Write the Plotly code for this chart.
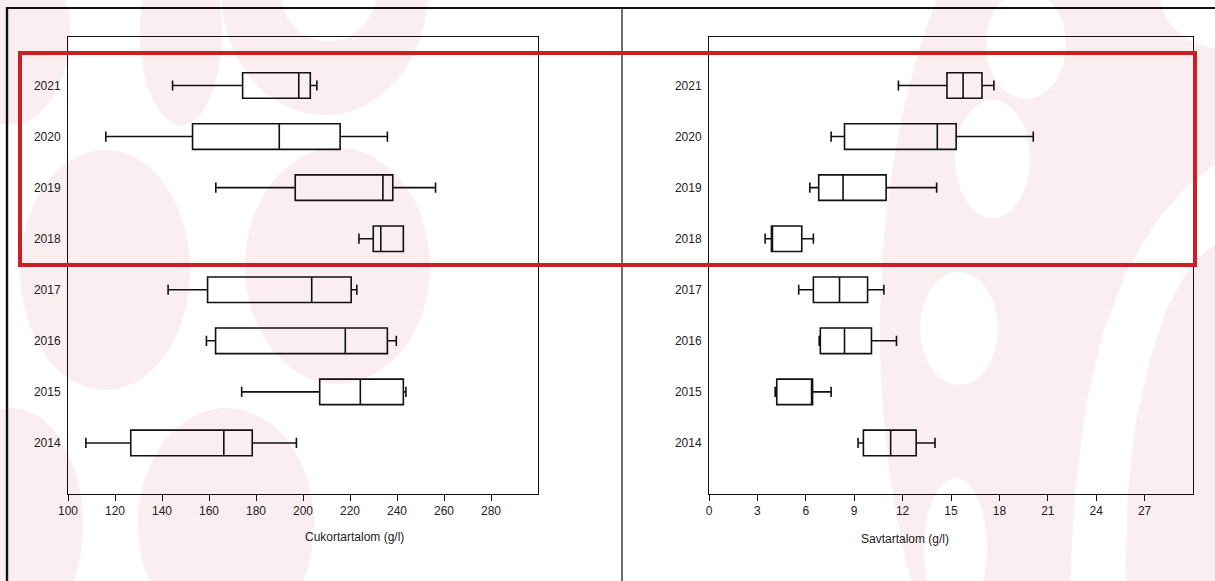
import plotly.graph_objects as go

W, H = 1215, 581

years = ["2014", "2015", "2016", "2017", "2018", "2019", "2020", "2021"]

# Sugar content (g/l) five-number summaries per vintage
sugar_min = [107.6, 173.9, 158.9, 142.6, 223.8, 162.9, 116.1, 144.5]
sugar_q1 = [126.7, 207.1, 162.8, 159.4, 229.9, 196.7, 153.0, 174.3]
sugar_med = [166.3, 224.4, 218.0, 203.7, 233.1, 234.0, 189.9, 198.2]
sugar_q3 = [178.4, 242.7, 235.9, 220.5, 242.7, 238.2, 215.8, 203.1]
sugar_max = [197.2, 243.8, 239.7, 222.9, 242.7, 256.4, 235.9, 205.9]

# Acid content (g/l) five-number summaries per vintage
acid_min = [9.24, 4.10, 6.83, 5.56, 3.48, 6.25, 7.57, 11.74]
acid_q1 = [9.57, 4.20, 6.90, 6.47, 3.87, 6.80, 8.40, 14.75]
acid_med = [11.26, 6.37, 8.40, 8.09, 3.87, 8.31, 14.15, 15.75]
acid_q3 = [12.84, 6.42, 10.07, 9.83, 5.75, 10.98, 15.32, 16.92]
acid_max = [14.01, 7.57, 11.62, 10.84, 6.47, 14.11, 20.10, 17.66]

sugar_ticks = list(range(100, 281, 20))
acid_ticks = list(range(0, 28, 3))

FONT = "Liberation Sans, Arial, sans-serif"


def px_x(x):
    return x / W


def px_y(y):
    return 1 - y / H


def box(stats, xa, ya):
    lo, q1, med, q3, hi = stats
    return go.Box(
        y=years, q1=q1, median=med, q3=q3, lowerfence=lo, upperfence=hi,
        orientation="h", xaxis=xa, yaxis=ya,
        boxpoints=False, width=0.5, whiskerwidth=0.4,
        line=dict(color="#111111", width=1.6),
        fillcolor="rgba(0,0,0,0)", hoverinfo="skip", showlegend=False,
    )


fig = go.Figure()
fig.add_trace(box((sugar_min, sugar_q1, sugar_med, sugar_q3, sugar_max), "x", "y"))
fig.add_trace(box((acid_min, acid_q1, acid_med, acid_q3, acid_max), "x2", "y2"))

ydom = [px_y(494), px_y(37)]
xcommon = dict(
    showline=True, mirror=True, linecolor="#111111", linewidth=1,
    ticks="outside", ticklen=6, tickcolor="#111111", tickwidth=1,
    showgrid=False, zeroline=False, automargin=False,
    tickfont=dict(family=FONT, size=12, color="#222222"),
)
ycommon = dict(
    type="category", categoryorder="array", categoryarray=years,
    range=[-1, 7.95], showline=True, mirror=True, linecolor="#111111",
    linewidth=1, ticks="", showgrid=False, zeroline=False, automargin=False,
    ticklabelstandoff=4, domain=ydom,
    tickfont=dict(family=FONT, size=12, color="#222222"),
)

fig.update_layout(
    width=W, height=H,
    margin=dict(l=0, r=0, t=0, b=0),
    paper_bgcolor="white", plot_bgcolor="rgba(0,0,0,0)",
    xaxis=dict(domain=[px_x(68), px_x(538)], range=[100, 300],
               tickvals=sugar_ticks, anchor="y", **xcommon),
    yaxis=dict(anchor="x", **ycommon),
    xaxis2=dict(domain=[px_x(709), px_x(1193)], range=[0, 30],
                tickvals=acid_ticks, anchor="y2", **xcommon),
    yaxis2=dict(anchor="x2", **ycommon),
)

# faint logo watermark behind both panels
pink = "#faeef0"
blobs = [
    (-50, -60, 70, 125), (140, -60, 222, 125), (221, -130, 428, 115),
    (20, 150, 190, 390), (245, 148, 430, 384), (138, 408, 314, 640),
    (-60, 408, 83, 640), (880, -270, 1560, 930),
]
holes = [(280, -60, 377, 41), (986, -10, 1066, 99), (955, 100, 1030, 218),
         (920, 272, 998, 385), (924, 478, 987, 620), (1160, -60, 1300, 50)]


def ellipse(b, color):
    x0, y0, x1, y1 = b
    return dict(type="circle", xref="paper", yref="paper", layer="below",
                x0=px_x(x0), x1=px_x(x1), y0=px_y(y1), y1=px_y(y0),
                fillcolor=color, line=dict(width=0))


shapes = [ellipse(b, pink) for b in blobs] + [ellipse(b, "white") for b in holes]

# curved white band in the right-hand watermark
outer = [(1070, 600), (1072, 540), (1076, 481), (1087, 400), (1103, 333),
         (1126, 272), (1155, 223), (1185, 188), (1220, 160)]
inner = [(1220, 240), (1205, 252), (1188, 270), (1166, 310), (1150, 360),
         (1136, 420), (1128, 490), (1125, 600)]
pts = outer + inner
path = "M " + " L ".join(f"{px_x(x):.5f},{px_y(y):.5f}" for x, y in pts) + " Z"
shapes.append(dict(type="path", xref="paper", yref="paper", layer="below",
                   path=path, fillcolor="white", line=dict(width=0)))

# outer panel borders
shapes.append(dict(type="line", xref="paper", yref="paper", x0=px_x(7), x1=px_x(7),
                   y0=0, y1=px_y(7), line=dict(color="#111111", width=2.4)))
shapes.append(dict(type="line", xref="paper", yref="paper", x0=px_x(6), x1=1,
                   y0=px_y(8), y1=px_y(8), line=dict(color="#111111", width=2)))
shapes.append(dict(type="line", xref="paper", yref="paper", x0=px_x(622), x1=px_x(622),
                   y0=0, y1=px_y(8), line=dict(color="#333333", width=1.4)))
# highlight frame around 2018-2021
shapes.append(dict(type="rect", xref="paper", yref="paper",
                   x0=px_x(20), x1=px_x(1195), y0=px_y(265), y1=px_y(53),
                   line=dict(color="#cc1e24", width=4), fillcolor="rgba(0,0,0,0)"))
fig.update_layout(shapes=shapes)

fig.add_annotation(text="Cukortartalom (g/l)", xref="paper", yref="paper",
                   x=px_x(303), y=px_y(546), showarrow=False,
                   font=dict(family=FONT, size=12, color="#222222"))
fig.add_annotation(text="Savtartalom (g/l)", xref="paper", yref="paper",
                   x=px_x(951), y=px_y(548), showarrow=False,
                   font=dict(family=FONT, size=12, color="#222222"))

fig.write_html("out.html")
